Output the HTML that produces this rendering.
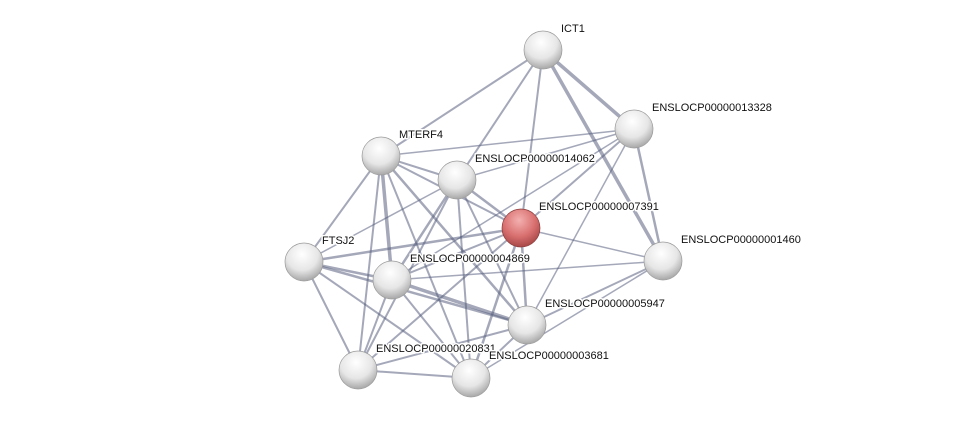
<!DOCTYPE html>
<html><head><meta charset="utf-8"><style>
html,body{margin:0;padding:0;background:#fff;width:975px;height:423px;overflow:hidden}
text{font-family:"Liberation Sans",sans-serif;font-size:11px;fill:#111;paint-order:stroke;stroke:#fff;stroke-width:3px;stroke-linejoin:round}
</style></head><body>
<svg width="975" height="423" xmlns="http://www.w3.org/2000/svg">
<defs>
<radialGradient id="g" cx="0.45" cy="0.3" r="0.7">
<stop offset="0" stop-color="#ffffff"/><stop offset="0.6" stop-color="#e6e6e6"/><stop offset="1" stop-color="#a8a8a8"/></radialGradient>
<radialGradient id="r" cx="0.45" cy="0.3" r="0.7">
<stop offset="0" stop-color="#f4b0b0"/><stop offset="0.6" stop-color="#d97070"/><stop offset="1" stop-color="#a84848"/></radialGradient>
</defs>
<g stroke="#5a6080" stroke-opacity="0.55" fill="none" id="edges"></g>
<g id="nodes"></g>
</svg>
<script>
var N={ICT1:[543,50],A:[634,129],M:[381,156],B:[457,180],R:[521,228],F:[304,262],C:[392,280],D:[663,261],E:[527,325],G:[358,370],H:[471,378]};
var E=[["ICT1","A",3.5],["ICT1","D",3.5],["ICT1","M",2],["ICT1","B",2],["ICT1","R",2],
["A","D",2.5],["A","M",1.5],["A","B",1.5],["A","R",2],["A","E",1.5],["A","C",1.5],
["M","F",2],["M","C",3.5],["M","B",2],["M","E",2.5],["M","R",2],["M","G",2],["M","H",2],
["B","R",2.5],["B","C",2.5],["B","G",2],["B","H",2],["B","E",2],["B","F",1.5],
["R","F",2.5],["R","D",1.5],["R","E",2.5],["R","H",2.5],["R","C",2],["R","G",2],
["F","C",2.5],["F","G",2],["F","H",2],["F","E",2.5],
["C","E",3.5],["C","G",2],["C","H",2],["C","D",1.5],
["D","E",2],["D","H",1.5],["E","G",2],["E","H",2],["G","H",2]];
var ns="http://www.w3.org/2000/svg",eg=document.getElementById("edges"),ng=document.getElementById("nodes");
E.forEach(function(e){var a=N[e[0]],b=N[e[1]],l=document.createElementNS(ns,"line");
l.setAttribute("x1",a[0]);l.setAttribute("y1",a[1]);l.setAttribute("x2",b[0]);l.setAttribute("y2",b[1]);l.setAttribute("stroke-width",e[2]);eg.appendChild(l);});
for(var k in N){var c=document.createElementNS(ns,"circle");c.setAttribute("cx",N[k][0]);c.setAttribute("cy",N[k][1]);c.setAttribute("r",19);
c.setAttribute("fill",k=="R"?"url(#r)":"url(#g)");c.setAttribute("stroke",k=="R"?"#8a3a3a":"#9a9a9a");c.setAttribute("stroke-width","0.7");ng.appendChild(c);}
var L=[["ICT1",561,32],["ENSLOCP00000013328",652,111],["MTERF4",399,138],["ENSLOCP00000014062",475,162],["ENSLOCP00000007391",539,210],["FTSJ2",322,244],["ENSLOCP00000004869",410,262],["ENSLOCP00000001460",681,243],["ENSLOCP00000005947",545,307],["ENSLOCP00000020831",376,352],["ENSLOCP00000003681",489,359]];
L.forEach(function(t){var x=document.createElementNS(ns,"text");x.setAttribute("x",t[1]);x.setAttribute("y",t[2]);x.textContent=t[0];ng.appendChild(x);});
</script>
</body></html>
